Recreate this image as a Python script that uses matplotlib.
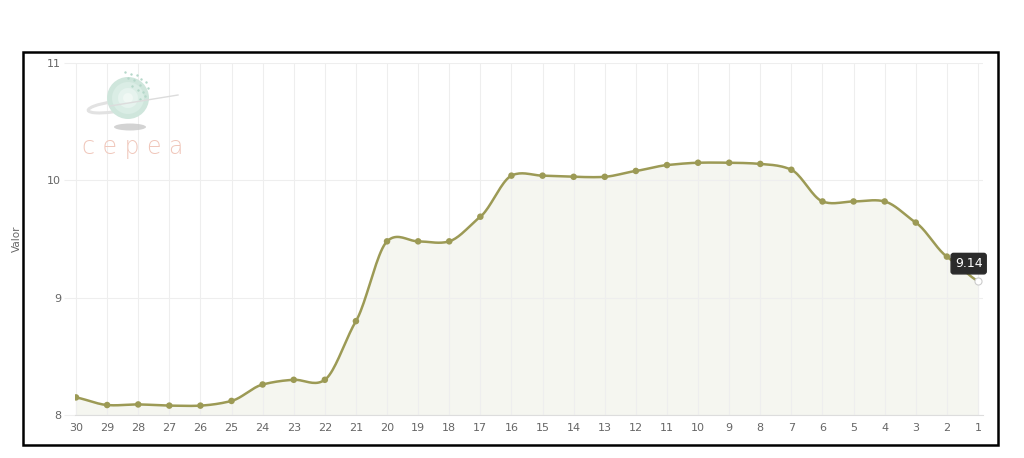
import numpy as np
import matplotlib.pyplot as plt
from matplotlib.patches import Rectangle, Ellipse, Circle

# dias (do mais antigo ao mais recente) e valores
dias = [str(d) for d in range(30, 0, -1)]
valores = [8.15, 8.085, 8.09, 8.08, 8.08, 8.12, 8.26, 8.30, 8.30, 8.80,
           9.48, 9.48, 9.48, 9.69, 10.04, 10.04, 10.03, 10.03, 10.08, 10.13,
           10.15, 10.15, 10.14, 10.09, 9.82, 9.82, 9.82, 9.64, 9.35, 9.14]
yticks = [8, 9, 10, 11]

linha = '#9c9a55'
preench = '#f5f6f0'
grade = '#eeeeee'
texto = '#666666'

W, H = 1024, 458
fig = plt.figure(figsize=(W / 100, H / 100), dpi=100)

# eixo principal (coordenadas em pixels convertidas)
left, right, top, bottom = 75, 983, 63, 415
ax = fig.add_axes([left / W, 1 - bottom / H, (right - left) / W, (bottom - top) / H])

x = np.arange(len(valores))
y = np.array(valores, dtype=float)


def catmull_rom(xs, ys, n=20, tension=0.5):
    # curva suave passando pelos pontos (só para desenhar a linha)
    px = np.concatenate([[xs[0]], xs, [xs[-1]]])
    py = np.concatenate([[ys[0]], ys, [ys[-1]]])
    out_x, out_y = [], []
    t = np.linspace(0, 1, n, endpoint=False)
    for i in range(1, len(px) - 2):
        p0, p1, p2, p3 = py[i - 1], py[i], py[i + 1], py[i + 2]
        q0, q1, q2, q3 = px[i - 1], px[i], px[i + 1], px[i + 2]
        m1 = tension * (p2 - p0) / max(q2 - q0, 1e-9) * (q2 - q1)
        m2 = tension * (p3 - p1) / max(q3 - q1, 1e-9) * (q2 - q1)
        h00 = 2 * t**3 - 3 * t**2 + 1
        h10 = t**3 - 2 * t**2 + t
        h01 = -2 * t**3 + 3 * t**2
        h11 = t**3 - t**2
        out_y.extend(h00 * p1 + h10 * m1 + h01 * p2 + h11 * m2)
        out_x.extend(q1 + t * (q2 - q1))
    out_x.append(xs[-1])
    out_y.append(ys[-1])
    return np.array(out_x), np.array(out_y)


sx, sy = catmull_rom(x.astype(float), y, tension=0.75)

ax.fill_between(sx, sy, 8, color=preench, zorder=1)
ax.plot(sx, sy, color=linha, lw=1.8, zorder=3)
ax.scatter(x[:-1], y[:-1], s=22, color=linha, zorder=4, edgecolors='none')
ax.scatter(x[-1:], y[-1:], s=26, color='white', edgecolors='#cccccc', linewidths=0.8, zorder=5)

px_per = (978 - 76) / 29
ax.set_xlim(-(76 - left) / px_per, 29 + (right - 978) / px_per)
ax.set_ylim(8, 11)
ax.set_xticks(x)
ax.set_xticklabels(dias)
ax.set_yticks(yticks)
ax.set_yticklabels([str(v) for v in yticks])
ax.grid(True, color=grade, lw=0.8, zorder=0)
for s in ['top', 'right', 'left']:
    ax.spines[s].set_visible(False)
ax.spines['bottom'].set_color('#dddddd')
ax.tick_params(axis='both', labelsize=8, colors=texto, length=0, pad=6)
ax.tick_params(axis='y', length=8, color=grade, pad=2)
ax.set_ylabel('Valor', fontsize=7.5, color=texto, labelpad=18)

# tooltip do último ponto
ax.annotate('9.14', xy=(x[-1], y[-1]), xytext=(x[-1] - 0.3, y[-1] + 0.15),
            ha='center', va='center', fontsize=9, color='white', zorder=6,
            bbox=dict(boxstyle='round,pad=0.3,rounding_size=0.2', fc='#2b2b2b', ec='#2b2b2b'))

# camada de sobreposição em pixels: moldura e logo
ov = fig.add_axes([0, 0, 1, 1], zorder=10)
ov.set_xlim(0, W)
ov.set_ylim(H, 0)
ov.axis('off')
ov.patch.set_alpha(0)
ov.add_patch(Rectangle((23, 52), 975, 393, fill=False, ec='black', lw=1.8))

# logo CEPEA (aproximação)
ov.add_patch(Ellipse((130, 127), 32, 7, color='#c9c9c9', alpha=0.8, lw=0))
ov.plot([110, 178], [106, 95], color='#dcdcdc', lw=1.0)
ov.add_patch(Ellipse((112, 107), 48, 10, angle=-8, fill=False, ec='#e2e2e2', lw=2.2))
for r, c in [(21, '#cfe6dc'), (16, '#daede5'), (10, '#e6f3ee'), (5, '#f0f8f4')]:
    ov.add_patch(Circle((128, 98), r, color=c, lw=0))
dots = [(125, 72), (131, 74), (137, 75), (141, 79), (146, 82), (134, 80), (140, 85),
        (148, 88), (143, 92), (138, 90), (132, 86), (145, 96), (140, 99), (128, 78)]
ov.scatter([d[0] for d in dots], [d[1] for d in dots], s=3, color='#b5d8ca', lw=0)
ov.text(133, 147, 'c e p e a', ha='center', va='center', fontsize=17, color='#f0c7bb',
        family='DejaVu Sans', fontweight='light')

fig.savefig('out.png', dpi=100)
